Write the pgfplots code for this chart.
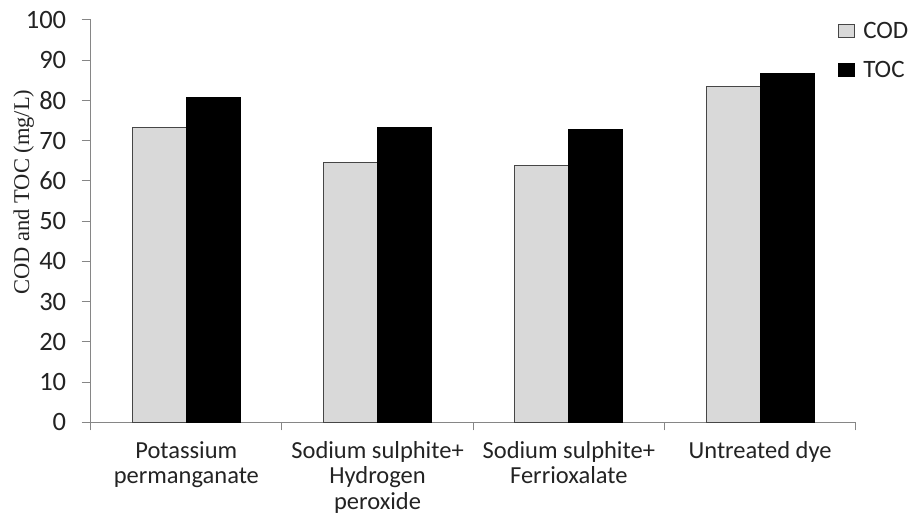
\documentclass[border=0pt]{standalone}
\usepackage{fontspec}
\setmainfont{Carlito}
\newfontfamily\seriffont{Liberation Serif}
\usepackage{pgfplots}
\pgfplotsset{compat=1.18}
\definecolor{codgray}{RGB}{217,217,217}
\definecolor{axgray}{RGB}{134,134,134}
\definecolor{edgegray}{RGB}{70,70,70}
\definecolor{txt}{RGB}{35,35,35}
\begin{document}
\begin{tikzpicture}
\useasboundingbox (-90.7pt,-94.7pt) rectangle (819.3pt,422.3pt);
\begin{axis}[
  at={(0,0)}, anchor=south west,
  scale only axis, width=765pt, height=402.3pt,
  xmin=-0.5, xmax=3.5, ymin=0, ymax=100,
  axis x line*=bottom, axis y line*=left,
  axis line style={axgray, line width=1pt},
  ybar=0pt, bar width=54pt,
  xtick={0,1,2,3},
  xticklabels={Potassium\\permanganate, Sodium sulphite+\\Hydrogen\\peroxide, Sodium sulphite+\\Ferrioxalate, Untreated dye},
  xticklabel style={align=center, font=\fontsize{24.5}{25.6}\selectfont, text=txt, anchor=north, yshift=-6.5pt},
  major x tick style={draw=none},
  minor xtick={-0.5,0.5,1.5,2.5,3.5},
  minor x tick style={axgray, line width=1pt},
  minor tick length=8pt,
  ytick={0,10,...,100},
  major tick length=9pt,
  tick align=outside,
  y tick style={axgray, line width=1pt},
  yticklabel style={font=\fontsize{26.5}{28}\selectfont, text=txt, anchor=east, xshift=-12pt},
  /pgf/number format/assume math mode=true,
  ylabel={COD and TOC (mg/L)},
  ylabel style={font=\seriffont\fontsize{22.5}{24}\selectfont, text=txt, at={(axis description cs:-0.0875,0.572)}, anchor=center, rotate=0},
  legend style={at={(rel axis cs:0.973,1.005)}, anchor=north west, draw=none, fill=none,
    font=\fontsize{25}{27}\selectfont, text=txt, row sep=17pt, column sep=6pt},
  legend cell align=left,
  legend image code/.code={\draw[#1, line width=1pt] (0pt,-6.5pt) rectangle (16pt,6.5pt);},
  clip=false,
]
\addplot[fill=codgray, draw=edgegray, line width=1pt] coordinates {(0,73.4) (1,64.6) (2,63.8) (3,83.5)};
\addlegendentry{COD}
\addplot[fill=black, draw=black, line width=1pt] coordinates {(0,80.7) (1,73.2) (2,72.8) (3,86.8)};
\addlegendentry{TOC}
\end{axis}
\end{tikzpicture}
\end{document}
